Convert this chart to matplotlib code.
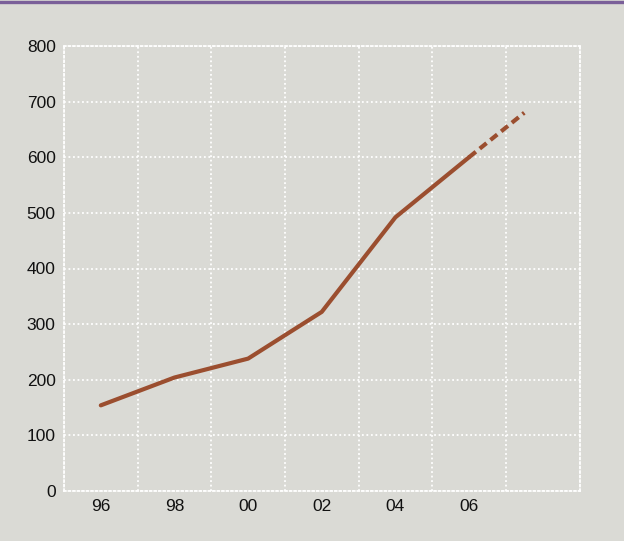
import matplotlib
matplotlib.use("Agg")
import matplotlib.pyplot as plt
from matplotlib.lines import Line2D

years = [1996, 1998, 2000, 2002, 2004, 2006]
values = [154, 204, 238, 322, 492, 600]
proj_years = [2006, 2007.5]
proj_values = [600, 680]
xtick_labels = ["96", "98", "00", "02", "04", "06"]
yticks = [0, 100, 200, 300, 400, 500, 600, 700, 800]

bg = "#dadad5"
line_color = "#9b4e2f"

plt.rcParams['font.family'] = ['Liberation Sans', 'DejaVu Sans']

fig = plt.figure(figsize=(6.24, 5.41), dpi=100, facecolor=bg)
ax = fig.add_axes([64/624, 50/541, (579.5-64)/624, (491-46)/541])
ax.set_facecolor(bg)

ax.plot(years, values, color=line_color, lw=3.0, solid_capstyle='round', solid_joinstyle='round', zorder=3)
ax.plot(proj_years, proj_values, color=line_color, lw=3.0, linestyle=(0, (2.1, 1.2)),
        dash_capstyle='butt', zorder=3)

ax.set_xlim(1995, 2009)
ax.set_ylim(0, 800)
ax.set_xticks(years)
ax.set_xticklabels(xtick_labels)
ax.set_xticks(list(range(1995, 2010, 2)), minor=True)
ax.set_yticks(yticks)
ax.tick_params(axis='both', which='both', length=0, labelsize=12.5, colors='#111111')
ax.tick_params(axis='x', pad=6)
ax.tick_params(axis='y', pad=6)
ax.grid(True, which='minor', axis='x', color='white', linestyle=(0, (1, 1.5)), lw=1.3)
ax.grid(True, which='major', axis='y', color='white', linestyle=(0, (1, 1.5)), lw=1.3)
ax.grid(False, which='major', axis='x')
for s in ax.spines.values():
    s.set_color('white')
    s.set_linestyle((0, (1, 1.5)))
    s.set_linewidth(1.3)

# purple top rule
fig.add_artist(Line2D([0, 1], [1 - 1.5/541, 1 - 1.5/541], transform=fig.transFigure,
                      color='#7a5f99', lw=2.4))

fig.savefig("out.png", dpi=100, facecolor=bg)
